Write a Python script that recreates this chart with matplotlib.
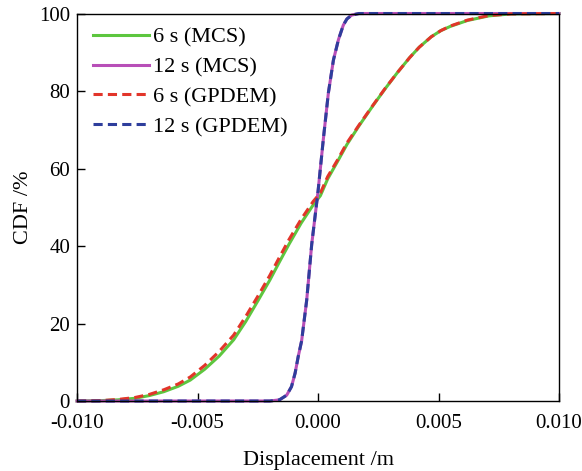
import matplotlib
matplotlib.use('Agg')
import matplotlib.pyplot as plt
from matplotlib.ticker import FormatStrFormatter

plt.rcParams['font.family'] = ['Liberation Serif', 'DejaVu Serif']

# 6 s curves
x6 = [-0.010, -0.009, -0.0083, -0.0076, -0.0070, -0.0064, -0.0058, -0.0053, -0.0047, -0.0041,
      -0.0035, -0.0030, -0.0025, -0.0020, -0.0016, -0.0012, -0.0007, -0.0002, 0.0001,
      0.0004, 0.0008, 0.0012, 0.0017, 0.0023, 0.0028, 0.0033, 0.0038, 0.0042, 0.0047,
      0.0051, 0.0055, 0.0062, 0.0071, 0.0080, 0.010]
cdf6_mcs = [0, 0.1, 0.3, 0.7, 1.4, 2.4, 3.8, 5.4, 8.2, 11.6,
            15.8, 20.5, 25.8, 31.2, 35.9, 40.5, 45.9, 50.6, 53.0,
            57.3, 61.7, 66.2, 71.0, 76.4, 80.7, 84.8, 88.6, 91.3, 94.0,
            95.6, 96.7, 98.2, 99.4, 99.9, 100]
cdf6_gpdem = [0, 0.1, 0.4, 0.9, 1.7, 2.9, 4.4, 6.2, 9.2, 12.8,
              17.0, 21.8, 27.0, 32.4, 37.1, 41.7, 46.9, 51.5, 53.7,
              57.9, 62.1, 66.6, 71.2, 76.5, 80.8, 84.8, 88.6, 91.3, 94.0,
              95.6, 96.8, 98.3, 99.5, 99.9, 100]

# 12 s curves
x12 = [-0.010, -0.0020, -0.0016, -0.0013, -0.0011, -0.00095, -0.00082, -0.00068,
       -0.00047, -0.00026, 0.0, 0.00022, 0.00043, 0.00064, 0.00085, 0.00105,
       0.00120, 0.00140, 0.0017, 0.010]
cdf12_mcs = [0, 0, 0.3, 1.5, 3.7, 7.2, 11.5, 15.5,
             26.0, 40.5, 54.0, 67.5, 79.5, 88.0, 93.3, 97.0,
             98.6, 99.6, 100, 100]
cdf12_gpdem = [0, 0, 0.3, 1.5, 3.7, 7.2, 11.5, 15.5,
               26.0, 40.5, 54.0, 67.5, 79.5, 88.0, 93.3, 97.0,
               98.6, 99.6, 100, 100]

fig = plt.figure(figsize=(5.82, 4.71), dpi=100)
ax = fig.add_axes([0.1323, 0.1486, 0.8282, 0.8227])

lw = 2.2
ax.plot(x6, cdf6_mcs, color='#5DC63F', lw=lw, label='6 s (MCS)', clip_on=False)
ax.plot(x12, cdf12_mcs, color='#B84FB8', lw=lw, label='12 s (MCS)', clip_on=False)
ax.plot(x6, cdf6_gpdem, color='#E2352A', lw=lw, dashes=(3, 1.7), label='6 s (GPDEM)', clip_on=False)
ax.plot(x12, cdf12_gpdem, color='#2E3E9C', lw=lw, dashes=(3, 1.7), label='12 s (GPDEM)', clip_on=False)

ax.set_xlim(-0.010, 0.010)
ax.set_ylim(0, 100)
ax.set_xticks([-0.010, -0.005, 0.0, 0.005, 0.010])
ax.set_yticks([0, 20, 40, 60, 80, 100])
ax.xaxis.set_major_formatter(FormatStrFormatter('%.3f'))
ax.tick_params(direction='in', length=6, width=1, labelsize=15)
ax.tick_params(axis='x', pad=9)
ax.tick_params(axis='y', pad=5)
ax.set_xlabel('Displacement /m', fontsize=16, labelpad=13)
ax.set_ylabel('CDF /%', fontsize=16, labelpad=4)
for s in ax.spines.values():
    s.set_linewidth(1)

ax.legend(loc='upper left', bbox_to_anchor=(0.008, 0.997), frameon=False,
          fontsize=16, handlelength=2.5, handletextpad=0.2, labelspacing=0.42,
          borderaxespad=0.25, borderpad=0.3)

fig.savefig('out.png', dpi=100)
